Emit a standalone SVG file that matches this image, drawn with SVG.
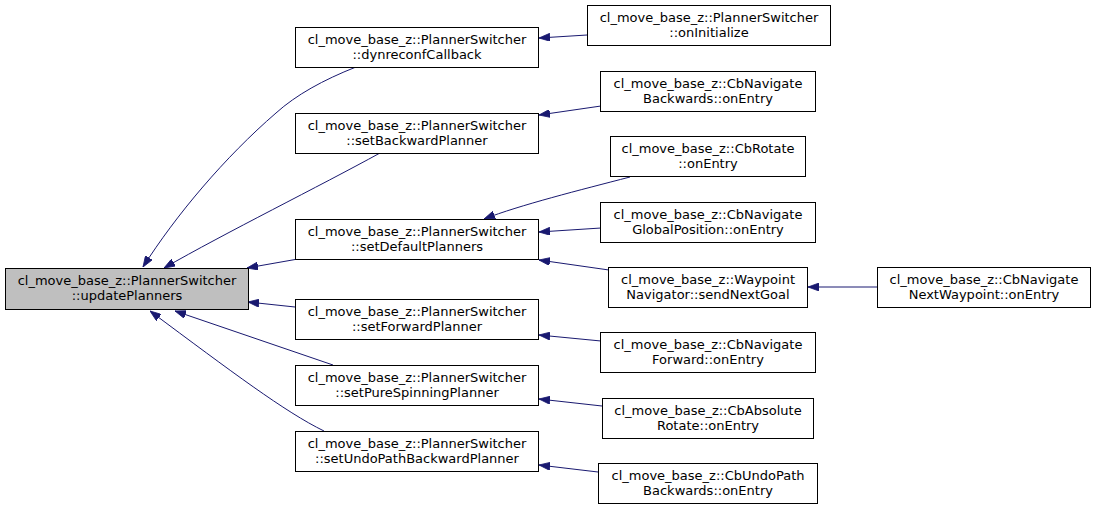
<svg xmlns="http://www.w3.org/2000/svg" width="1096" height="509" viewBox="0 0 1096 509">
<style>
.n rect{fill:#ffffff;stroke:#000000;stroke-width:1}
.n.main rect{fill:#bfbfbf}
.n text{font-family:"DejaVu Sans","Liberation Sans",sans-serif;font-size:13px;text-anchor:middle;fill:#000000}
.e path{fill:none;stroke:#191970;stroke-width:1}
</style>
<defs>
<marker id="ah" viewBox="0 0 11 8" markerWidth="11" markerHeight="8" refX="11" refY="4" orient="auto" markerUnits="userSpaceOnUse">
<path d="M0,0 L11,4 L0,8 z" fill="#191970" stroke="#191970" stroke-width="0.8"/>
</marker>
</defs>
<rect width="1096" height="509" fill="#ffffff"/>
<g id="edges" class="e">
<path marker-end="url(#ah)" d="M356,67 C323,80 296,95 276,113 C225,157 176,215 143,267"/>
<path marker-end="url(#ah)" d="M380,153 C320,186 225,233 164,268"/>
<path marker-end="url(#ah)" d="M298,259 L247,268"/>
<path marker-end="url(#ah)" d="M295,307 L248,302"/>
<path marker-end="url(#ah)" d="M333,365 L175,311"/>
<path marker-end="url(#ah)" d="M324,431 C285,412 232,372 150,311"/>
<path marker-end="url(#ah)" d="M587,35 L539,38"/>
<path marker-end="url(#ah)" d="M601,106 L539,115"/>
<path marker-end="url(#ah)" d="M630,177 C580,190 520,205 484,219"/>
<path marker-end="url(#ah)" d="M601,228 L539,232"/>
<path marker-end="url(#ah)" d="M609,270 L539,260"/>
<path marker-end="url(#ah)" d="M601,341 L539,335"/>
<path marker-end="url(#ah)" d="M602,406 L539,399"/>
<path marker-end="url(#ah)" d="M598,472 L539,465"/>
<path marker-end="url(#ah)" d="M877,287 L808,287"/>
</g>
<g id="updatePlanners" class="n main">
<rect x="5.5" y="268.5" width="243" height="41"/>
<text x="127" y="285">cl_move_base_z::PlannerSwitcher</text>
<text x="127" y="300">::updatePlanners</text>
</g>
<g id="dynreconfCallback" class="n">
<rect x="295.5" y="27.5" width="243" height="40"/>
<text x="417" y="44">cl_move_base_z::PlannerSwitcher</text>
<text x="417" y="59">::dynreconfCallback</text>
</g>
<g id="setBackwardPlanner" class="n">
<rect x="295.5" y="113.5" width="243" height="40"/>
<text x="417" y="130">cl_move_base_z::PlannerSwitcher</text>
<text x="417" y="145">::setBackwardPlanner</text>
</g>
<g id="setDefaultPlanners" class="n">
<rect x="295.5" y="219.5" width="243" height="40"/>
<text x="417" y="236">cl_move_base_z::PlannerSwitcher</text>
<text x="417" y="251">::setDefaultPlanners</text>
</g>
<g id="setForwardPlanner" class="n">
<rect x="295.5" y="299.5" width="243" height="40"/>
<text x="417" y="316">cl_move_base_z::PlannerSwitcher</text>
<text x="417" y="331">::setForwardPlanner</text>
</g>
<g id="setPureSpinningPlanner" class="n">
<rect x="295.5" y="365.5" width="243" height="40"/>
<text x="417" y="382">cl_move_base_z::PlannerSwitcher</text>
<text x="417" y="397">::setPureSpinningPlanner</text>
</g>
<g id="setUndoPathBackwardPlanner" class="n">
<rect x="295.5" y="431.5" width="243" height="40"/>
<text x="417" y="448">cl_move_base_z::PlannerSwitcher</text>
<text x="417" y="463">::setUndoPathBackwardPlanner</text>
</g>
<g id="onInitialize" class="n">
<rect x="587.5" y="5.5" width="243" height="40"/>
<text x="709" y="22">cl_move_base_z::PlannerSwitcher</text>
<text x="709" y="37">::onInitialize</text>
</g>
<g id="CbNavigateBackwards" class="n">
<rect x="600.5" y="71.5" width="215" height="40"/>
<text x="708" y="88">cl_move_base_z::CbNavigate</text>
<text x="708" y="103">Backwards::onEntry</text>
</g>
<g id="CbRotate" class="n">
<rect x="610.5" y="136.5" width="195" height="40"/>
<text x="708" y="153">cl_move_base_z::CbRotate</text>
<text x="708" y="168">::onEntry</text>
</g>
<g id="CbNavigateGlobalPosition" class="n">
<rect x="600.5" y="202.5" width="215" height="40"/>
<text x="708" y="219">cl_move_base_z::CbNavigate</text>
<text x="708" y="234">GlobalPosition::onEntry</text>
</g>
<g id="WaypointNavigator" class="n">
<rect x="608.5" y="267.5" width="199" height="40"/>
<text x="708" y="284">cl_move_base_z::Waypoint</text>
<text x="708" y="299">Navigator::sendNextGoal</text>
</g>
<g id="CbNavigateForward" class="n">
<rect x="600.5" y="332.5" width="215" height="40"/>
<text x="708" y="349">cl_move_base_z::CbNavigate</text>
<text x="708" y="364">Forward::onEntry</text>
</g>
<g id="CbAbsoluteRotate" class="n">
<rect x="602.5" y="398.5" width="211" height="40"/>
<text x="708" y="415">cl_move_base_z::CbAbsolute</text>
<text x="708" y="430">Rotate::onEntry</text>
</g>
<g id="CbUndoPathBackwards" class="n">
<rect x="598.5" y="463.5" width="219" height="40"/>
<text x="708" y="480">cl_move_base_z::CbUndoPath</text>
<text x="708" y="495">Backwards::onEntry</text>
</g>
<g id="CbNavigateNextWaypoint" class="n">
<rect x="877.5" y="267.5" width="213" height="40"/>
<text x="984" y="284">cl_move_base_z::CbNavigate</text>
<text x="984" y="299">NextWaypoint::onEntry</text>
</g>
</svg>
